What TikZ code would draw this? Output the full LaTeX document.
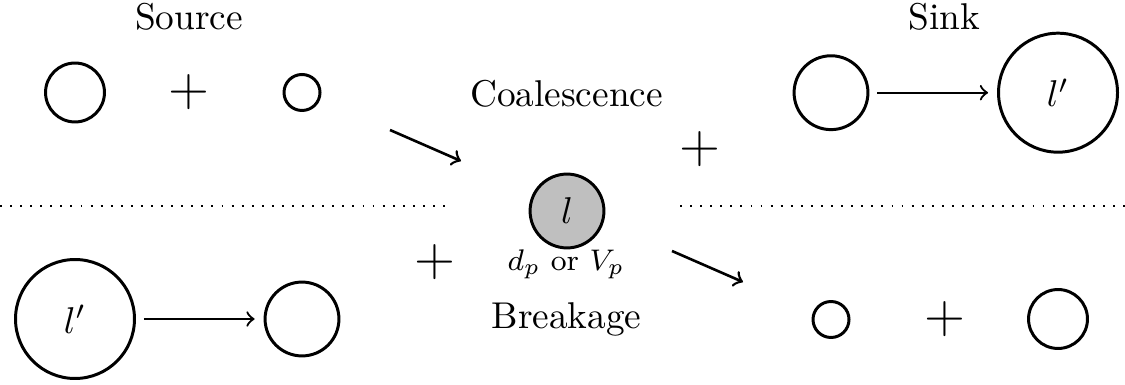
\documentclass[tikz,border=0pt]{standalone}
\begin{document}
\begin{tikzpicture}[x=0.26809pt,y=-0.26809pt,
  bub/.style={circle,draw,line width=0.8pt,inner sep=0pt},
  plus/.style={font=\Large,inner sep=0pt},
  lbl/.style={anchor=base,inner sep=0pt},
  harr/.style={->,semithick,shorten <=2.1pt,shorten >=2.4pt},
  darr/.style={->,line width=0.7pt},
  dots/.style={line width=0.5pt,dash pattern=on 0.5pt off 2.2pt}]
\useasboundingbox (0,0) rectangle (1125,385);
% titles
\node[lbl] (src) at (189,30) {Source};
\node[lbl] (snk) at (944.5,30) {Sink};
\node[lbl] (coal) at (566.5,106.7) {Coalescence};
\node[lbl] (brk) at (566.5,329) {Breakage};
% source (top left)
\node[bub,minimum size=15.8pt] (a1) at (75,92.5) {};
\node[plus] (p1) at (189,92.5) {$+$};
\node[bub,minimum size=9.65pt] (a2) at (302,92.5) {};
% sink (top right)
\node[bub,minimum size=19.8pt] (s1) at (831,92.7) {};
\node[bub,minimum size=31.9pt] (s2) at (1058,92.7) {$l'$};
\draw[harr] (s1) -- (s2);
\node[plus] (p2) at (699.5,149.5) {$+$};
% centre particle
\node[bub,fill=gray!50,minimum size=19.8pt] (c) at (567,211) {$l$};
\node[lbl,font=\footnotesize] (lab) at (566,270.7) {$d_p$ or $V_p$};
% diagonal arrows
\coordinate (c1s) at (390,130);
\coordinate (c1e) at (461,161);
\draw[darr] (c1s) -- (c1e);
\coordinate (b1s) at (672,251);
\coordinate (b1e) at (743,282);
\draw[darr] (b1s) -- (b1e);
% dotted separators
\coordinate (dl1) at (0,205.7);
\coordinate (dl2) at (446,205.7);
\coordinate (dr1) at (680,205.7);
\coordinate (dr2) at (1125,205.7);
\draw[dots] (dl1) -- (dl2);
\draw[dots] (dr1) -- (dr2);
% breakage (bottom left)
\node[plus] (p3) at (434.5,262) {$+$};
\node[bub,minimum size=31.9pt] (d1) at (75,319) {$l'$};
\node[bub,minimum size=19.8pt] (d2) at (302,319) {};
\draw[harr] (d1) -- (d2);
% bottom right
\node[bub,minimum size=9.65pt] (e1) at (831,319.5) {};
\node[plus] (p4) at (944.7,319) {$+$};
\node[bub,minimum size=15.8pt] (e2) at (1058,319) {};
\end{tikzpicture}
\end{document}
